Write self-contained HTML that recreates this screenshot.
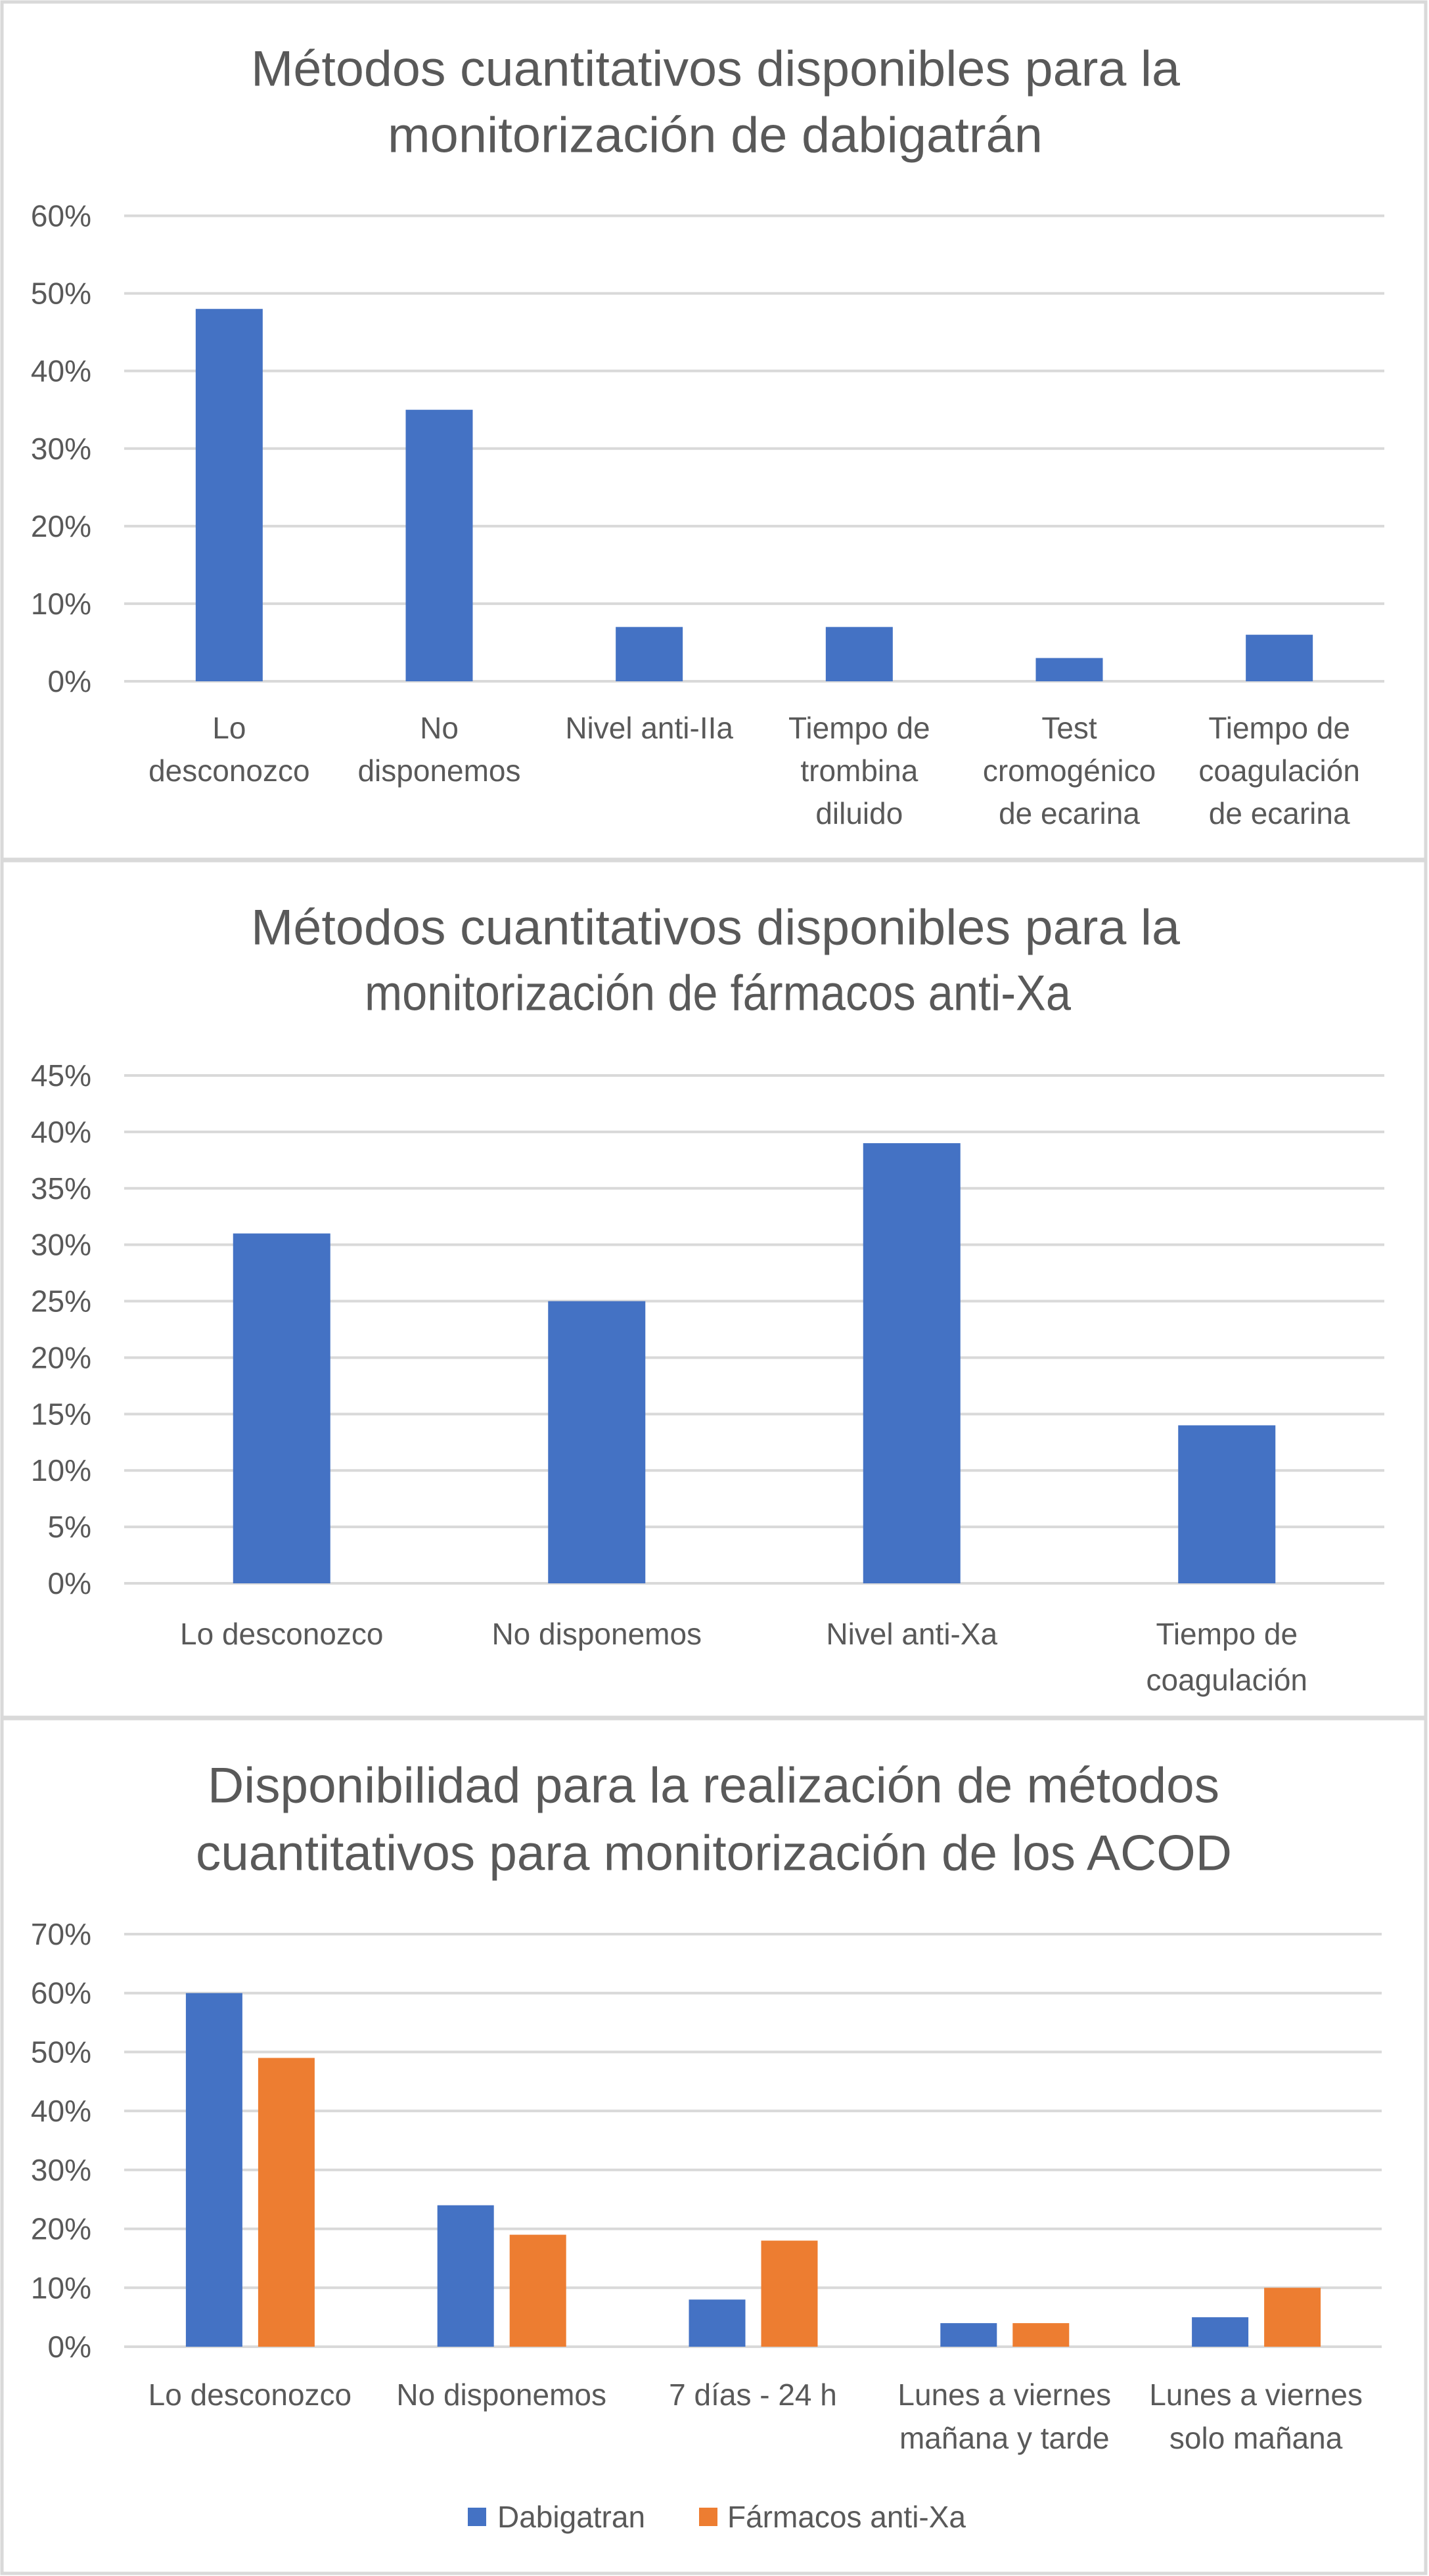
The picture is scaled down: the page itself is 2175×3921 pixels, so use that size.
<!DOCTYPE html>
<html><head><meta charset="utf-8">
<style>
html,body{margin:0;padding:0;background:#fff;}
svg{display:block;}
text{font-family:"Liberation Sans",sans-serif;fill:#595959;}
</style></head>
<body>
<svg id="root" width="2175" height="3921" xmlns="http://www.w3.org/2000/svg"></svg>
<script>
// Chart 1 data
const c1Categories = [["Lo","desconozco"],["No","disponemos"],["Nivel anti-IIa"],["Tiempo de","trombina","diluido"],["Test","cromogénico","de ecarina"],["Tiempo de","coagulación","de ecarina"]];
const c1Values = [48,35,7,7,3,6];
const c1Ticks = [0,10,20,30,40,50,60];
// Chart 2 data
const c2Categories = [["Lo desconozco"],["No disponemos"],["Nivel anti-Xa"],["Tiempo de","coagulación"]];
const c2Values = [31,25,39,14];
const c2Ticks = [0,5,10,15,20,25,30,35,40,45];
// Chart 3 data
const c3Categories = [["Lo desconozco"],["No disponemos"],["7 días - 24 h"],["Lunes a viernes","mañana y tarde"],["Lunes a viernes","solo mañana"]];
const c3Dabigatran = [60,24,8,4,5];
const c3AntiXa = [49,19,18,4,10];
const c3Ticks = [0,10,20,30,40,50,60,70];
const seriesNames = ["Dabigatran","Fármacos anti-Xa"];

const NS="http://www.w3.org/2000/svg";
const root=document.getElementById('root');
function mk(tag,attrs,parent){const e=document.createElementNS(NS,tag);for(const k in attrs)e.setAttribute(k,attrs[k]);(parent||root).appendChild(e);return e;}

function panel(y0,y1,name){
  const g=mk('g',{});
  
  
  const r=mk('rect',{x:3,y:y0,width:2167,height:y1-y0,fill:'#fff',stroke:'#d9d9d9','stroke-width':5},g);
  
  
  return g;
}
function title(g,lines){
  lines.forEach(l=>{
    const t=mk('text',{x:(l.x0+l.x1)/2,y:l.cy,'text-anchor':'middle','dominant-baseline':'central','font-size':76,textLength:l.x1-l.x0,lengthAdjust:'spacingAndGlyphs'},g);
    t.textContent=l.s;
    
    
  });
}
function axis(g,ticks,y0,y100,maxV,x0,x1){
  const yf=v=>y0-(v/maxV)*(y0-y100);
  ticks.forEach(v=>{
    const l=mk('line',{x1:x0,x2:x1,y1:yf(v),y2:yf(v),stroke:'#d9d9d9','stroke-width':4},g);
    
    
    const t=mk('text',{x:139,y:yf(v),'text-anchor':'end','dominant-baseline':'central','font-size':46},g);
    t.textContent=v+'%';
    
    
  });
  return yf;
}
function catLabels(g,cats,x0,step,cy,lh){
  cats.forEach((lines,i)=>{
    lines.forEach((s,j)=>{
      const t=mk('text',{x:x0+step*(i+0.5),y:cy+j*lh,'text-anchor':'middle','dominant-baseline':'central','font-size':46},g);
      t.textContent=s;
      
      
    });
  });
}

// Chart 1
(function(){
  const g=panel(3,1308,'chart-dabigatran');
  title(g,[{s:"Métodos cuantitativos disponibles para la",cy:105,x0:382,x1:1796},{s:"monitorización de dabigatrán",cy:206,x0:590,x1:1587}]);
  const x0=189,x1=2107,step=(x1-x0)/c1Categories.length;
  const yf=axis(g,c1Ticks,1037,328.5,60,x0,x1);
  c1Values.forEach((v,i)=>{
    const cx=x0+step*(i+0.5);
    const r=mk('rect',{x:cx-51,y:yf(v),width:102,height:yf(0)-yf(v),fill:'#4472c4'},g);
    
    
  });
  catLabels(g,c1Categories,x0,step,1108,65);
})();

// Chart 2
(function(){
  const g=panel(1310,2614,'chart-anti-xa');
  title(g,[{s:"Métodos cuantitativos disponibles para la",cy:1412,x0:382,x1:1796},{s:"monitorización de fármacos anti-Xa",cy:1512,x0:555,x1:1630}]);
  const x0=189,x1=2107,step=(x1-x0)/c2Categories.length;
  const yf=axis(g,c2Ticks,2410,1637,45,x0,x1);
  c2Values.forEach((v,i)=>{
    const cx=x0+step*(i+0.5);
    const r=mk('rect',{x:cx-74,y:yf(v),width:148,height:yf(0)-yf(v),fill:'#4472c4'},g);
    
    
  });
  catLabels(g,c2Categories,x0,step,2487,70);
})();

// Chart 3
(function(){
  const g=panel(2616,3917,'chart-availability');
  title(g,[{s:"Disponibilidad para la realización de métodos",cy:2718,x0:316,x1:1856},{s:"cuantitativos para monitorización de los ACOD",cy:2821,x0:298,x1:1875}]);
  const x0=189,x1=2103,step=(x1-x0)/c3Categories.length;
  const yf=axis(g,c3Ticks,3572,2944,70,x0,x1);
  c3Dabigatran.forEach((v,i)=>{
    const cx=x0+step*(i+0.5);
    const r=mk('rect',{x:cx-97.5,y:yf(v),width:86,height:yf(0)-yf(v),fill:'#4472c4'},g);
    
    
  });
  c3AntiXa.forEach((v,i)=>{
    const cx=x0+step*(i+0.5);
    const r=mk('rect',{x:cx+12.5,y:yf(v),width:86,height:yf(0)-yf(v),fill:'#ed7d31'},g);
    
    
  });
  catLabels(g,c3Categories,x0,step,3645,66);
  const leg=[{x:712,c:'#4472c4',tx:757},{x:1064,c:'#ed7d31',tx:1107}];
  leg.forEach((l,i)=>{
    const s=mk('rect',{x:l.x,y:3817,width:28,height:28,fill:l.c},g);
    
    
    const t=mk('text',{x:l.tx,y:3831,'dominant-baseline':'central','font-size':46},g);
    t.textContent=seriesNames[i];
    
    
  });
})();
</script>
</body></html>
